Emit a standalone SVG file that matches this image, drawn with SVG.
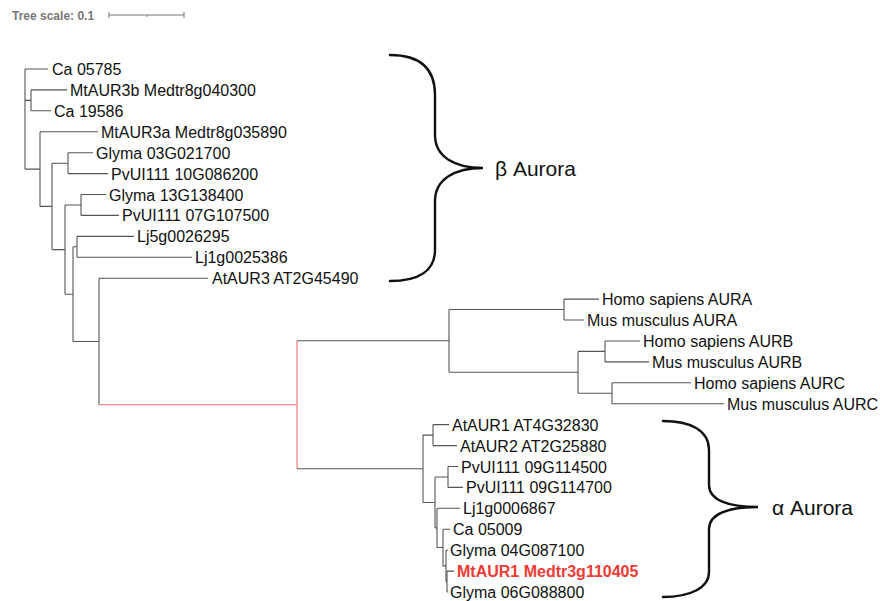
<svg xmlns="http://www.w3.org/2000/svg" width="880" height="601" viewBox="0 0 880 601">
<style>
.br{fill:none;stroke:#555;stroke-width:1.1}
.red{fill:none;stroke:#f07070;stroke-width:1.1}
.lb{font-family:"Liberation Sans",Arial,sans-serif;font-size:16px;fill:#111}
.hl{font-family:"Liberation Sans",Arial,sans-serif;font-size:16px;font-weight:bold;fill:#ef3b33}
.cl{font-family:"Liberation Sans",Arial,sans-serif;font-size:21px;fill:#111}
.brace{fill:none;stroke:#111;stroke-width:2.4;stroke-linecap:round}
.sc{font-family:"Liberation Sans",Arial,sans-serif;font-size:12px;font-weight:bold;fill:#777}
</style>
<rect width="880" height="601" fill="#fff"/>
<g id="scale">
<text class="sc" x="12" y="19.5">Tree scale: 0.1</text>
<path d="M109,15H184M109,12V18M184,12V18M147,15V17" fill="none" stroke="#777" stroke-width="1"/>
</g>
<g id="connectors">
<path class="br" d="M25,69V169.1M25,69H48M25,100.4H31M25,169.1H40"/>
<path class="br" d="M31,89.9V110.8M31,89.9H67M31,110.8H51"/>
<path class="br" d="M40,131.8V206.4M40,131.8H98M40,206.4H52"/>
<path class="br" d="M52,163.2V249.6M52,163.2H68M52,249.6H65"/>
<path class="br" d="M68,152.7V173.6M68,152.7H93M68,173.6H108"/>
<path class="br" d="M65,205V294.2M65,205H81M65,294.2H73"/>
<path class="br" d="M81,194.5V215.4M81,194.5H106M81,215.4H119"/>
<path class="br" d="M73,246.8V341.5M73,246.8H77M73,341.5H99"/>
<path class="br" d="M77,236.4V257.3M77,236.4H134M77,257.3H192"/>
<path class="br" d="M99,278.2V404.8M99,278.2H208"/>
<path class="red" d="M99,404.8H297M297,340.8V468.8"/>
<path class="br" d="M297,340.8H449M297,468.8H423"/>
<path class="br" d="M449,309.5V372.3M449,309.5H564M449,372.3H578"/>
<path class="br" d="M564,299.1V320M564,299.1H599M564,320H584"/>
<path class="br" d="M578,351.4V393.3M578,351.4H605M578,393.3H612"/>
<path class="br" d="M605,341V361.9M605,341H640M605,361.9H649"/>
<path class="br" d="M612,382.8V403.7M612,382.8H691M612,403.7H724"/>
<path class="br" d="M423,435.1V502.5M423,435.1H433M423,502.5H435"/>
<path class="br" d="M433,424.6V445.6M433,424.6H449M433,445.6H457"/>
<path class="br" d="M435,477V527.9M435,477H448M435,527.9H437"/>
<path class="br" d="M448,466.5V487.4M448,466.5H458M448,487.4H463"/>
<path class="br" d="M437,508.3V547.5M437,508.3H460M437,547.5H443"/>
<path class="br" d="M443,529.2V565.9M443,529.2H450M443,565.9H446"/>
<path class="br" d="M446,550.2V581.6M446,550.2H448M446,581.6H447"/>
<path class="br" d="M447,571.1V592M447,571.1H454M447,592H448"/>
</g>
<g id="leaf-ca05785"><text class="lb" x="52" y="75">Ca 05785</text></g>
<g id="leaf-mtaur3b"><text class="lb" x="70" y="95.9">MtAUR3b Medtr8g040300</text></g>
<g id="leaf-ca19586"><text class="lb" x="54" y="116.8">Ca 19586</text></g>
<g id="leaf-mtaur3a"><text class="lb" x="101" y="137.8">MtAUR3a Medtr8g035890</text></g>
<g id="leaf-glyma03"><text class="lb" x="96" y="158.7">Glyma 03G021700</text></g>
<g id="leaf-pv10g"><text class="lb" x="111" y="179.6">PvUI111 10G086200</text></g>
<g id="leaf-glyma13"><text class="lb" x="109" y="200.5">Glyma 13G138400</text></g>
<g id="leaf-pv07g"><text class="lb" x="122" y="221.4">PvUI111 07G107500</text></g>
<g id="leaf-lj5g"><text class="lb" x="137" y="242.4">Lj5g0026295</text></g>
<g id="leaf-lj1g25"><text class="lb" x="195" y="263.3">Lj1g0025386</text></g>
<g id="leaf-ataur3"><text class="lb" x="212" y="284.2">AtAUR3 AT2G45490</text></g>
<g id="leaf-hsaura"><text class="lb" x="602" y="305.1">Homo sapiens AURA</text></g>
<g id="leaf-mmaura"><text class="lb" x="587" y="326">Mus musculus AURA</text></g>
<g id="leaf-hsaurb"><text class="lb" x="643" y="347">Homo sapiens AURB</text></g>
<g id="leaf-mmaurb"><text class="lb" x="652" y="367.9">Mus musculus AURB</text></g>
<g id="leaf-hsaurc"><text class="lb" x="694" y="388.8">Homo sapiens AURC</text></g>
<g id="leaf-mmaurc"><text class="lb" x="727" y="409.7">Mus musculus AURC</text></g>
<g id="leaf-ataur1"><text class="lb" x="452" y="430.6">AtAUR1 AT4G32830</text></g>
<g id="leaf-ataur2"><text class="lb" x="460" y="451.6">AtAUR2 AT2G25880</text></g>
<g id="leaf-pv09g500"><text class="lb" x="461" y="472.5">PvUI111 09G114500</text></g>
<g id="leaf-pv09g700"><text class="lb" x="466" y="493.4">PvUI111 09G114700</text></g>
<g id="leaf-lj1g68"><text class="lb" x="463" y="514.3">Lj1g0006867</text></g>
<g id="leaf-ca05009"><text class="lb" x="453" y="535.2">Ca 05009</text></g>
<g id="leaf-glyma04"><text class="lb" x="450" y="556.2">Glyma 04G087100</text></g>
<g id="leaf-mtaur1"><text class="hl" x="457" y="577.1">MtAUR1 Medtr3g110405</text></g>
<g id="leaf-glyma06"><text class="lb" x="450" y="598">Glyma 06G088800</text></g>
<g id="clade-beta">
<path class="brace" d="M390,55C420,55 435,68 435,95V135C435,157 455,168 483,168C455,168 435,179 435,201V250C435,270 420,281 390,281"/>
<text class="cl" x="495" y="175.5">β Aurora</text>
</g>
<g id="clade-alpha">
<path class="brace" d="M663,421C690,421 709,430 709,450V485C709,500 728,507 758,507C728,507 709,514 709,529V572C709,588 690,597 663,597"/>
<text class="cl" x="772" y="514.5">α Aurora</text>
</g>
</svg>
